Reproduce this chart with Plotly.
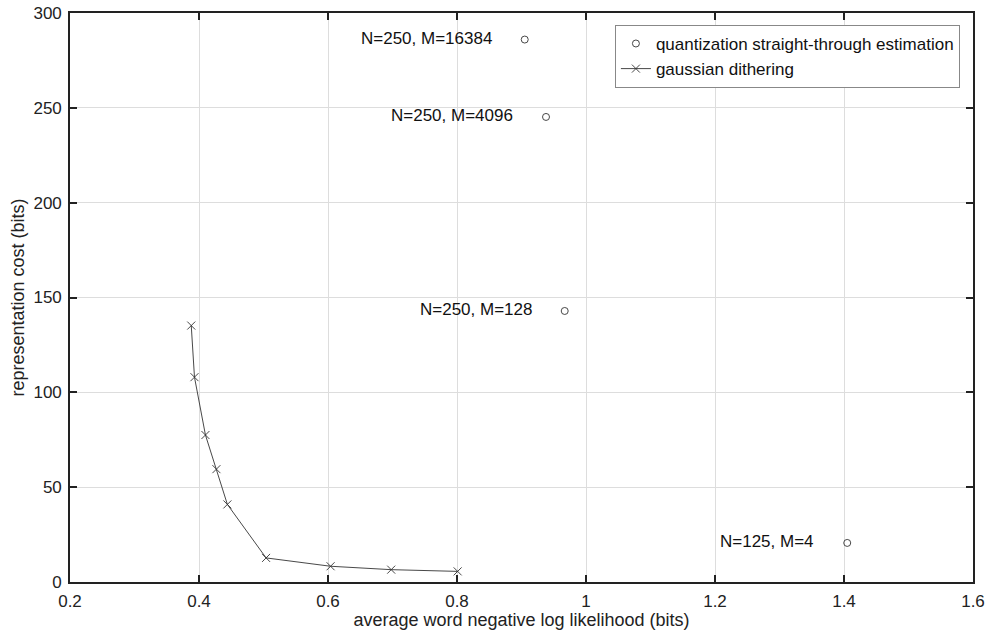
import plotly.graph_objects as go

# gaussian dithering curve
dither_x = [0.388, 0.393, 0.410, 0.427, 0.444, 0.504, 0.604, 0.698, 0.801]
dither_y = [135.2, 108.0, 77.5, 59.5, 40.9, 12.7, 8.3, 6.5, 5.6]

# quantization straight-through estimation points
quant_x = [0.905, 0.938, 0.967, 1.405]
quant_y = [286.0, 245.2, 142.9, 20.6]
quant_labels = ["N=250, M=16384", "N=250, M=4096", "N=250, M=128", "N=125, M=4"]

x_ticks = [0.2, 0.4, 0.6, 0.8, 1.0, 1.2, 1.4, 1.6]
x_tick_text = ["0.2", "0.4", "0.6", "0.8", "1", "1.2", "1.4", "1.6"]
y_ticks = [0, 50, 100, 150, 200, 250, 300]

FONT = "Liberation Sans, Arial, Helvetica, sans-serif"
FS = 17
FT = 18

fig = go.Figure()
fig.add_trace(go.Scatter(
    x=quant_x, y=quant_y, mode="markers",
    name="quantization straight-through estimation",
    marker=dict(symbol="circle-open", size=7, color="#333333", line=dict(width=0.9)),
))
fig.add_trace(go.Scatter(
    x=dither_x, y=dither_y, mode="lines+markers",
    name="gaussian dithering",
    line=dict(color="#333333", width=0.9),
    marker=dict(symbol="x-thin-open", size=8, color="#333333", line=dict(width=0.9, color="#333333")),
))

for x, y, t in zip(quant_x, quant_y, quant_labels):
    fig.add_annotation(x=x, y=y, text=t, showarrow=False, xanchor="right",
                       xshift=-31, yshift=1, font=dict(family=FONT, size=FS, color="#111111"))

axis_common = dict(
    showline=True, linecolor="#222222", linewidth=1.6, mirror="ticks",
    ticks="inside", ticklen=7, tickwidth=1.6, tickcolor="#222222",
    showgrid=True, gridcolor="#dddddd", gridwidth=1.3, zeroline=False,
    tickfont=dict(family=FONT, size=FS, color="#222222"),
    automargin=False,
)

fig.update_layout(
    width=985, height=630,
    margin=dict(l=70, r=12, t=13, b=48),
    paper_bgcolor="white", plot_bgcolor="white",
    font=dict(family=FONT, size=FS, color="#222222"),
    xaxis=dict(range=[0.2, 1.6], tickvals=x_ticks, ticktext=x_tick_text,
               ticklabelstandoff=3,
               title=dict(text="average word negative log likelihood (bits)", standoff=0,
                          font=dict(family=FONT, size=FT, color="#222222")),
               **axis_common),
    yaxis=dict(range=[0, 300], tickvals=y_ticks, ticklabelstandoff=3,
               title=dict(text="representation cost (bits)", standoff=4,
                          font=dict(family=FONT, size=FT, color="#222222")),
               **axis_common),
    legend=dict(x=0.9855, y=0.979, xanchor="right", yanchor="top",
                bordercolor="#888888", borderwidth=1, bgcolor="white",
                font=dict(family=FONT, size=FS, color="#111111"),
                tracegroupgap=0, itemwidth=30),
    showlegend=True,
)

fig.write_html("out.html", config={"displayModeBar": False},
               post_script="document.body.style.margin='0';document.body.style.overflow='hidden';")
